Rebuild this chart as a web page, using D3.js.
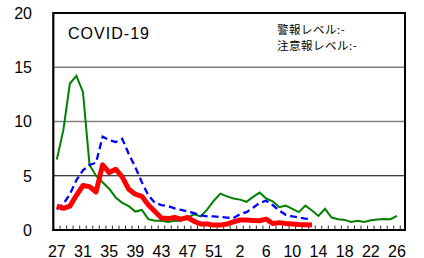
<!DOCTYPE html>
<html>
<head>
<meta charset="utf-8">
<script src="https://cdn.jsdelivr.net/npm/d3@7"></script>
<style>
	body { margin: 0; background: #fff; }
	svg { display: block; }
</style>
</head>
<body>
<svg id="chart" width="424" height="258"></svg>
<script>

// week numbers, 2020 wk27 .. 2021 wk26 (53 weeks)
var weeks = [27, 28, 29, 30, 31, 32, 33, 34, 35, 36, 37, 38, 39, 40, 41, 42, 43, 44, 45, 46,
	47, 48, 49, 50, 51, 52, 53, 1, 2, 3, 4, 5, 6, 7, 8, 9, 10, 11, 12, 13, 14, 15, 16, 17,
	18, 19, 20, 21, 22, 23, 24, 25, 26];

var tickLabels = [27, 31, 35, 39, 43, 47, 51, 2, 6, 10, 14, 18, 22, 26];
var yTicks = [0, 5, 10, 15, 20];

var seriesGreen = [6.5, 9.2, 13.5, 14.2, 12.7, 6.0, 5.0, 4.4, 3.8, 3.0, 2.5, 2.2, 1.7, 1.85,
	1.0, 0.85, 0.85, 0.75, 0.85, 0.85, 1.15, 1.45, 1.25, 1.9, 2.7, 3.35, 3.1, 2.9, 2.8, 2.6,
	3.05, 3.45, 2.9, 2.65, 2.1, 2.25, 1.95, 1.65, 2.25, 1.8, 1.3, 1.95, 1.15, 1.0, 0.93, 0.75,
	0.85, 0.75, 0.9, 0.97, 1.02, 1.0, 1.3];

var seriesBlue = [1.9, 2.4, 3.3, 4.6, 5.5, 6.0, 6.2, 8.6, 8.3, 8.1, 8.4, 7.0, 5.8, 4.4, 3.2,
	2.5, 2.3, 2.2, 2.0, 1.85, 1.7, 1.55, 1.35, 1.25, 1.25, 1.2, 1.15, 1.1, 1.45, 1.65, 2.05,
	2.5, 2.7, 2.3, 1.8, 1.4, 1.25, 1.15, 1.05, 1.0];

var seriesRed = [2.2, 2.0, 2.2, 3.2, 4.1, 4.0, 3.5, 6.0, 5.3, 5.6, 4.9, 3.75, 3.3, 3.1, 2.3,
	1.7, 1.1, 1.05, 1.15, 1.0, 1.15, 0.8, 0.55, 0.55, 0.45, 0.45, 0.55, 0.75, 0.92, 0.92,
	0.88, 0.85, 1.0, 0.6, 0.68, 0.6, 0.55, 0.5, 0.48, 0.45];

var title = "COVID-19";
var levelLines = ["警報レベル:-", "注意報レベル:-"];

var plot = { left: 53.3, right: 405, top: 13, bottom: 230 };

var svg = d3.select("#chart");

var x = d3.scaleLinear()
	.domain([0, weeks.length - 1])
	.range([56.8, 397]);

var y = d3.scaleLinear()
	.domain([0, 20])
	.range([plot.bottom, plot.top]);

// horizontal grid (5 is drawn black, the rest gray)
svg.append("g")
	.selectAll("line")
	.data(yTicks.filter(function(d) { return d > 0 && d < 20; }))
	.enter().append("line")
	.attr("x1", plot.left)
	.attr("x2", plot.right)
	.attr("y1", function(d) { return y(d); })
	.attr("y2", function(d) { return y(d); })
	.attr("stroke", function(d) { return d == 5 ? "#000" : "#808080"; })
	.attr("stroke-width", function(d) { return d == 5 ? 1.2 : 1.6; });

// small ticks between categories along the bottom
svg.append("g")
	.selectAll("line")
	.data(d3.range(weeks.length + 1))
	.enter().append("line")
	.attr("x1", function(i) { return x(i - 0.5); })
	.attr("x2", function(i) { return x(i - 0.5); })
	.attr("y1", plot.bottom - 4.5)
	.attr("y2", plot.bottom)
	.attr("stroke", "#333")
	.attr("stroke-width", 1);

// frame
svg.append("line")
	.attr("x1", plot.left).attr("x2", plot.right)
	.attr("y1", plot.top).attr("y2", plot.top)
	.attr("stroke", "#000").attr("stroke-width", 2);
svg.append("line")
	.attr("x1", plot.right).attr("x2", plot.right)
	.attr("y1", plot.top - 1).attr("y2", plot.bottom + 1)
	.attr("stroke", "#000").attr("stroke-width", 2);
svg.append("line")
	.attr("x1", plot.left).attr("x2", plot.left)
	.attr("y1", plot.top - 1).attr("y2", plot.bottom + 1)
	.attr("stroke", "#000").attr("stroke-width", 2.2);
svg.append("line")
	.attr("x1", plot.left - 1).attr("x2", plot.right + 1)
	.attr("y1", plot.bottom).attr("y2", plot.bottom)
	.attr("stroke", "#000").attr("stroke-width", 2.2);

var line = d3.line()
	.x(function(d, i) { return x(i); })
	.y(function(d) { return y(d); });

svg.append("path")
	.datum(seriesGreen)
	.attr("d", line)
	.attr("fill", "none")
	.attr("stroke", "#008000")
	.attr("stroke-width", 2);

svg.append("path")
	.datum(seriesBlue)
	.attr("d", line)
	.attr("fill", "none")
	.attr("stroke", "#0000ff")
	.attr("stroke-width", 2.3)
	.attr("stroke-dasharray", "7,4");

svg.append("path")
	.datum(seriesRed)
	.attr("d", line)
	.attr("fill", "none")
	.attr("stroke", "#ff0000")
	.attr("stroke-width", 5)
	.attr("stroke-linejoin", "round");

// y labels
svg.append("g")
	.selectAll("text")
	.data(yTicks)
	.enter().append("text")
	.attr("x", 32)
	.attr("y", function(d) { return y(d); })
	.attr("dy", "0.36em")
	.attr("text-anchor", "end")
	.attr("font-family", "'Liberation Sans', Arial, sans-serif")
	.attr("font-size", 16)
	.text(function(d) { return d; });

// x labels
svg.append("g")
	.selectAll("text")
	.data(tickLabels)
	.enter().append("text")
	.attr("x", function(w) { return x(weeks.indexOf(w)); })
	.attr("y", 256.5)
	.attr("text-anchor", "middle")
	.attr("font-family", "'Liberation Sans', Arial, sans-serif")
	.attr("font-size", 16)
	.text(function(d) { return d; });

svg.append("text")
	.attr("x", 68)
	.attr("y", 39.3)
	.attr("font-family", "'Liberation Sans', Arial, sans-serif")
	.attr("font-size", 16)
	.attr("textLength", 81)
	.text(title);

// alert levels, two stacked lines
svg.append("g")
	.selectAll("text")
	.data(levelLines)
	.enter().append("text")
	.attr("x", 277)
	.attr("y", function(d, i) { return 33.5 + i * 16.8; })
	.attr("font-family", "'Noto Sans CJK JP', sans-serif")
	.attr("font-size", 11.5)
	.attr("letter-spacing", 0.5)
	.text(function(d) { return d; });

</script>
</body>
</html>
